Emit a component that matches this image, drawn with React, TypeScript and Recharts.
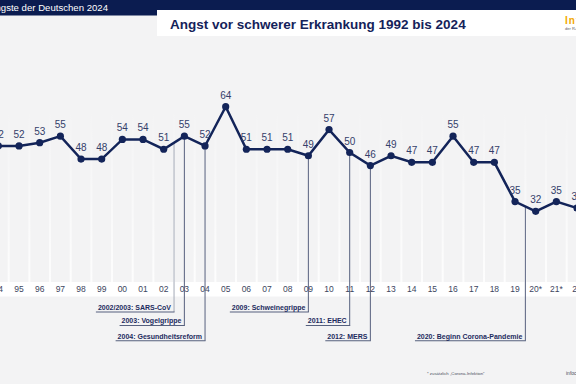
import React from 'react';
import { LineChart, Line, XAxis, YAxis, CartesianGrid, ReferenceLine, LabelList } from 'recharts';

const years = [1992, 1993, 1994, 1995, 1996, 1997, 1998, 1999, 2000, 2001, 2002, 2003, 2004, 2005, 2006, 2007, 2008, 2009, 2010, 2011, 2012, 2013, 2014, 2015, 2016, 2017, 2018, 2019, 2020, 2021, 2022, 2023, 2024];
const tickLabels = ['92', '93', '94', '95', '96', '97', '98', '99', '00', '01', '02', '03', '04', '05', '06', '07', '08', '09', '10', '11', '12', '13', '14', '15', '16', '17', '18', '19', '20*', '21*', '22', '23', '24'];
const fearValues = [49, 50, 52, 52, 53, 55, 48, 48, 54, 54, 51, 55, 52, 64, 51, 51, 51, 49, 57, 50, 46, 49, 47, 47, 55, 47, 47, 35, 32, 35, 33, 36, 37];

const annotationYears = [2002.5, 2003, 2004, 2009, 2011, 2012, 2019.5];
const annotationTexts = ['2002/2003: SARS-CoV', '2003: Vogelgrippe', '2004: Gesundheitsreform', '2009: Schweinegrippe', '2011: EHEC', '2012: MERS', '2020: Beginn Corona-Pandemie'];
const annotationLevels = [0, 1, 2, 0, 1, 2, 2];
const annotationLight = [true, false, false, false, false, false, false];

const FONT = '"Liberation Sans", Arial, Helvetica, sans-serif';
const NAVY = '#132459';
const HEADER_NAVY = '#0b1c50';
const UNDERLINE_Y = [312, 325.5, 340.7];
const ANN_FONT_SIZE = 7;

const data = years.map((y, i) => ({ year: y, value: fearValues[i] }));

const valueAt = (x: number) => {
  const i = Math.floor(x - years[0]);
  const f = x - years[0] - i;
  if (f === 0 || i + 1 >= fearValues.length) return fearValues[i];
  return fearValues[i] * (1 - f) + fearValues[i + 1] * f;
};

let ctx: CanvasRenderingContext2D | null = null;
const measure = (text: string) => {
  if (!ctx) {
    const c = document.createElement('canvas');
    ctx = c.getContext('2d');
  }
  if (!ctx) return text.length * ANN_FONT_SIZE * 0.55;
  ctx.font = `bold ${ANN_FONT_SIZE}px "Liberation Sans"`;
  return ctx.measureText(text).width;
};

const makeAnnShape = (idx: number) => (props: any) => {
  const { x1, y1 } = props;
  const underY = UNDERLINE_Y[annotationLevels[idx]];
  const text = annotationTexts[idx];
  const w = measure(text);
  const textRight = x1 - 3;
  const textLeft = textRight - w;
  return (
    <g>
      <line x1={x1} y1={y1} x2={x1} y2={underY} stroke={annotationLight[idx] ? '#a4a9b6' : '#56607e'} strokeWidth={1} />
      <line x1={textLeft - 2} y1={underY} x2={x1 + 0.5} y2={underY} stroke="#56607e" strokeWidth={1.1} />
      <text x={textRight} y={underY - 2.2} textAnchor="end" fontFamily={FONT} fontWeight="bold" fontSize={ANN_FONT_SIZE} fill="#1d2b5e">
        {text}
      </text>
    </g>
  );
};

const stripeGenerator = (props: any) => {
  const { offset } = props;
  const n = years.length;
  const out: number[] = [];
  for (let i = 0; i <= n; i++) out.push(offset.left + (i * offset.width) / n);
  return out;
};

export default function App() {
  return (
    <div style={{ position: 'fixed', left: 0, top: 0, width: 576, height: 384, overflow: 'hidden', background: '#f3f3f4', fontFamily: FONT }}>
      <svg width={576} height={384} style={{ position: 'absolute', left: 0, top: 0 }}>
        <rect x={0} y={0} width={576} height={10} fill={HEADER_NAVY} />
        <rect x={0} y={0} width={157} height={15.5} fill={HEADER_NAVY} />
        <text x={108} y={11.3} textAnchor="end" fontSize={9.6} fill="#ffffff" fontFamily={FONT}>Die Ängste der Deutschen 2024</text>
        <rect x={157} y={10} width={419} height={26} fill="#ffffff" />
        <text x={170} y={28.8} fontSize={13.5} fontWeight="bold" fill="#14225a" fontFamily={FONT}>Angst vor schwerer Erkrankung 1992 bis 2024</text>
        <text x={565} y={23.6} fontSize={10} fontWeight="bold" fill="#f2a900" fontFamily={FONT} letterSpacing={1}>Infocenter</text>
        <text x={565} y={29.5} fontSize={4} fill="#555a66" fontFamily={FONT}>der R+V Versicherung</text>
        <rect x={0} y={282} width={576} height={14.5} fill="#ffffff" />
        <text x={427} y={375} fontSize={4.3} fill="#4a4f5c" fontFamily={FONT}>* zusätzlich „Corona-Infektion“</text>
        <text x={566} y={375} fontSize={5} fill="#4a4f5c" fontFamily={FONT}>infocenter.ruv.de</text>
      </svg>
      <div style={{ position: 'absolute', left: -60, top: 0 }}>
        <LineChart width={700} height={384} data={data} margin={{ top: 87.1, right: 11.3, bottom: 80.7, left: 6.7 }}>
          <defs>
            <linearGradient id="stripeGrad" gradientUnits="userSpaceOnUse" x1={0} y1={105} x2={0} y2={283}>
              <stop offset="0" stopColor="#ffffff" stopOpacity={0} />
              <stop offset="1" stopColor="#ffffff" stopOpacity={0.85} />
            </linearGradient>
          </defs>
          <CartesianGrid horizontal={false} vertical={true} stroke="url(#stripeGrad)" strokeWidth={2} verticalCoordinatesGenerator={stripeGenerator} />
          <XAxis
            dataKey="year"
            type="number"
            domain={[years[0] - 0.5, years[years.length - 1] + 0.5]}
            ticks={years}
            interval={0}
            height={20}
            tickFormatter={(v: number) => tickLabels[years.indexOf(v)] ?? ''}
            tick={{ fontSize: 8.5, fill: '#3d4660', fontFamily: FONT }}
            tickLine={false}
            axisLine={false}
            tickSize={0}
            tickMargin={3}
          />
          <YAxis hide domain={[10, 70]} allowDataOverflow />
          {annotationYears.map((x, i) => (
            <ReferenceLine
              key={i}
              segment={[{ x, y: valueAt(x) }, { x, y: 10 }]}
              ifOverflow="visible"
              shape={makeAnnShape(i)}
            />
          ))}
          <Line
            dataKey="value"
            stroke={NAVY}
            strokeWidth={2.5}
            dot={{ r: 3.6, fill: NAVY, stroke: 'none' }}
            activeDot={false}
            isAnimationActive={false}
          >
            <LabelList dataKey="value" position="top" offset={8} fontSize={10} fill="#34406a" fontFamily={FONT} />
          </Line>
        </LineChart>
      </div>
    </div>
  );
}
